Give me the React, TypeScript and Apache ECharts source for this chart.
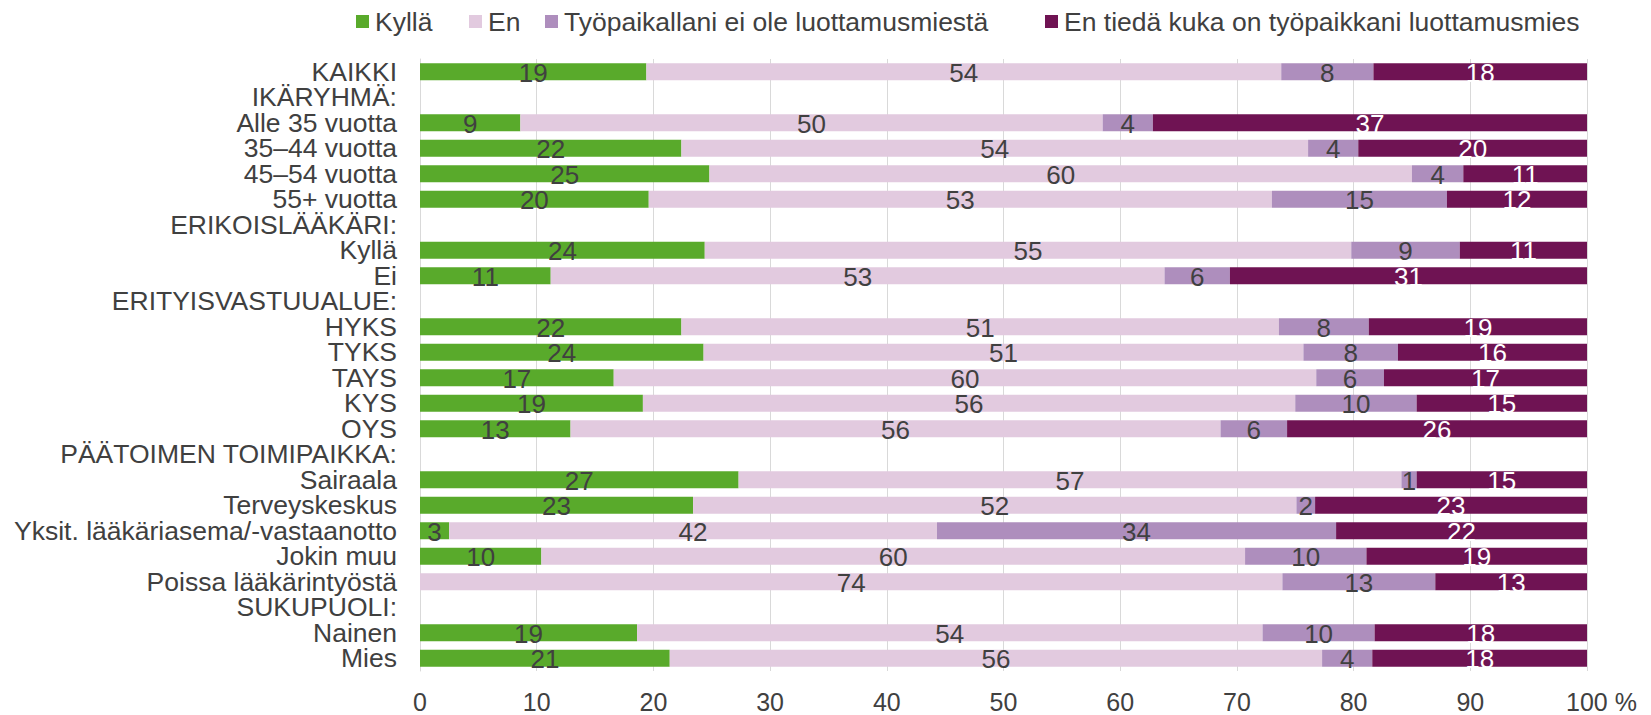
import React, { useEffect, useRef } from "react";
import * as echarts from "echarts";

const categories = [
  "KAIKKI",
  "IKÄRYHMÄ:",
  "Alle 35 vuotta",
  "35–44 vuotta",
  "45–54 vuotta",
  "55+ vuotta",
  "ERIKOISLÄÄKÄRI:",
  "Kyllä",
  "Ei",
  "ERITYISVASTUUALUE:",
  "HYKS",
  "TYKS",
  "TAYS",
  "KYS",
  "OYS",
  "PÄÄTOIMEN TOIMIPAIKKA:",
  "Sairaala",
  "Terveyskeskus",
  "Yksit. lääkäriasema/-vastaanotto",
  "Jokin muu",
  "Poissa lääkärintyöstä",
  "SUKUPUOLI:",
  "Nainen",
  "Mies",
];

const seriesNames = [
  "Kyllä",
  "En",
  "Työpaikallani ei ole luottamusmiestä",
  "En tiedä kuka on työpaikkani luottamusmies",
];

const kylla = [19.4, null, 8.6, 22.4, 24.8, 19.6, null, 24.4, 11.2, null, 22.4, 24.3, 16.6, 19.1, 12.9, null, 27.3, 23.4, 2.5, 10.4, 0, null, 18.6, 21.4];
const en = [54.4, null, 49.9, 53.7, 60.2, 53.4, null, 55.4, 52.6, null, 51.2, 51.4, 60.2, 55.9, 55.7, null, 56.8, 51.7, 41.8, 60.3, 73.9, null, 53.6, 55.9];
const eiLuottamusmiesta = [7.9, null, 4.3, 4.3, 4.4, 15.0, null, 9.3, 5.6, null, 7.7, 8.1, 5.8, 10.4, 5.7, null, 1.3, 1.6, 34.2, 10.4, 13.1, null, 9.6, 4.3];
const enTieda = [18.3, null, 37.2, 19.6, 10.6, 12.0, null, 10.9, 30.6, null, 18.7, 16.2, 17.4, 14.6, 25.7, null, 14.6, 23.3, 21.5, 18.9, 13.0, null, 18.2, 18.4];

const xTicks = [0, 10, 20, 30, 40, 50, 60, 70, 80, 90, 100];

const colors = ["#59aa2b", "#e2cadf", "#ae8ebd", "#6f1353"];
const labelColors = ["#404040", "#404040", "#404040", "#ffffff"];
const legendLefts = [351, 464, 540, 1040];
const FONT = "'Liberation Sans', Arial, Helvetica, sans-serif";
const TEXT = "#404040";

export default function App() {
  const ref = useRef<HTMLDivElement>(null);

  useEffect(() => {
    if (!ref.current) return;
    const chart = echarts.init(ref.current, null, { renderer: "svg" });
    const dataSets = [kylla, en, eiLuottamusmiesta, enTieda];
    chart.setOption({
      animation: false,
      textStyle: { fontFamily: FONT },
      legend: seriesNames.map((name, i) => ({
        left: legendLefts[i],
        top: 3,
        itemWidth: 13,
        itemHeight: 13,
        itemGap: 0,
        icon: "rect",
        textStyle: { fontSize: 26.5, color: TEXT, fontFamily: FONT, padding: [0, 0, 0, 1] },
        data: [name],
      })),
      grid: { left: 420, right: 64, top: 59, bottom: 44, containLabel: false },
      xAxis: {
        type: "value",
        min: xTicks[0],
        max: xTicks[xTicks.length - 1],
        interval: 10,
        axisLine: { show: false },
        axisTick: { show: false },
        splitLine: { show: true, lineStyle: { color: "#d9d9d9", width: 1 } },
        axisLabel: {
          fontSize: 25,
          color: TEXT,
          fontFamily: FONT,
          margin: 18,
          formatter: (v: number) => (v === 100 ? "{p|100 %}" : String(v)),
          rich: {
            p: { fontSize: 25, color: TEXT, fontFamily: FONT, padding: [0, 0, 0, 29] },
          },
        },
      },
      yAxis: {
        type: "category",
        inverse: true,
        data: categories,
        axisTick: { show: false },
        axisLine: { show: true, lineStyle: { color: "#d9d9d9", width: 1 } },
        axisLabel: { interval: 0, fontSize: 26.5, color: TEXT, fontFamily: FONT, margin: 23 },
      },
      series: seriesNames.map((name, i) => ({
        name,
        type: "bar",
        stack: "total",
        barWidth: 17,
        itemStyle: { color: colors[i] },
        label: {
          show: true,
          position: "inside",
          fontSize: 26,
          color: labelColors[i],
          fontFamily: FONT,
          offset: [0, 1],
          formatter: (p: any) => {
            const v = p.value;
            if (v == null || v === 0) return "";
            return String(Math.round(v));
          },
        },
        data: dataSets[i],
      })),
    });
    return () => chart.dispose();
  }, []);

  return (
    <div
      ref={ref}
      style={{ position: "absolute", left: 0, top: 0, width: 1651, height: 715 }}
    />
  );
}
